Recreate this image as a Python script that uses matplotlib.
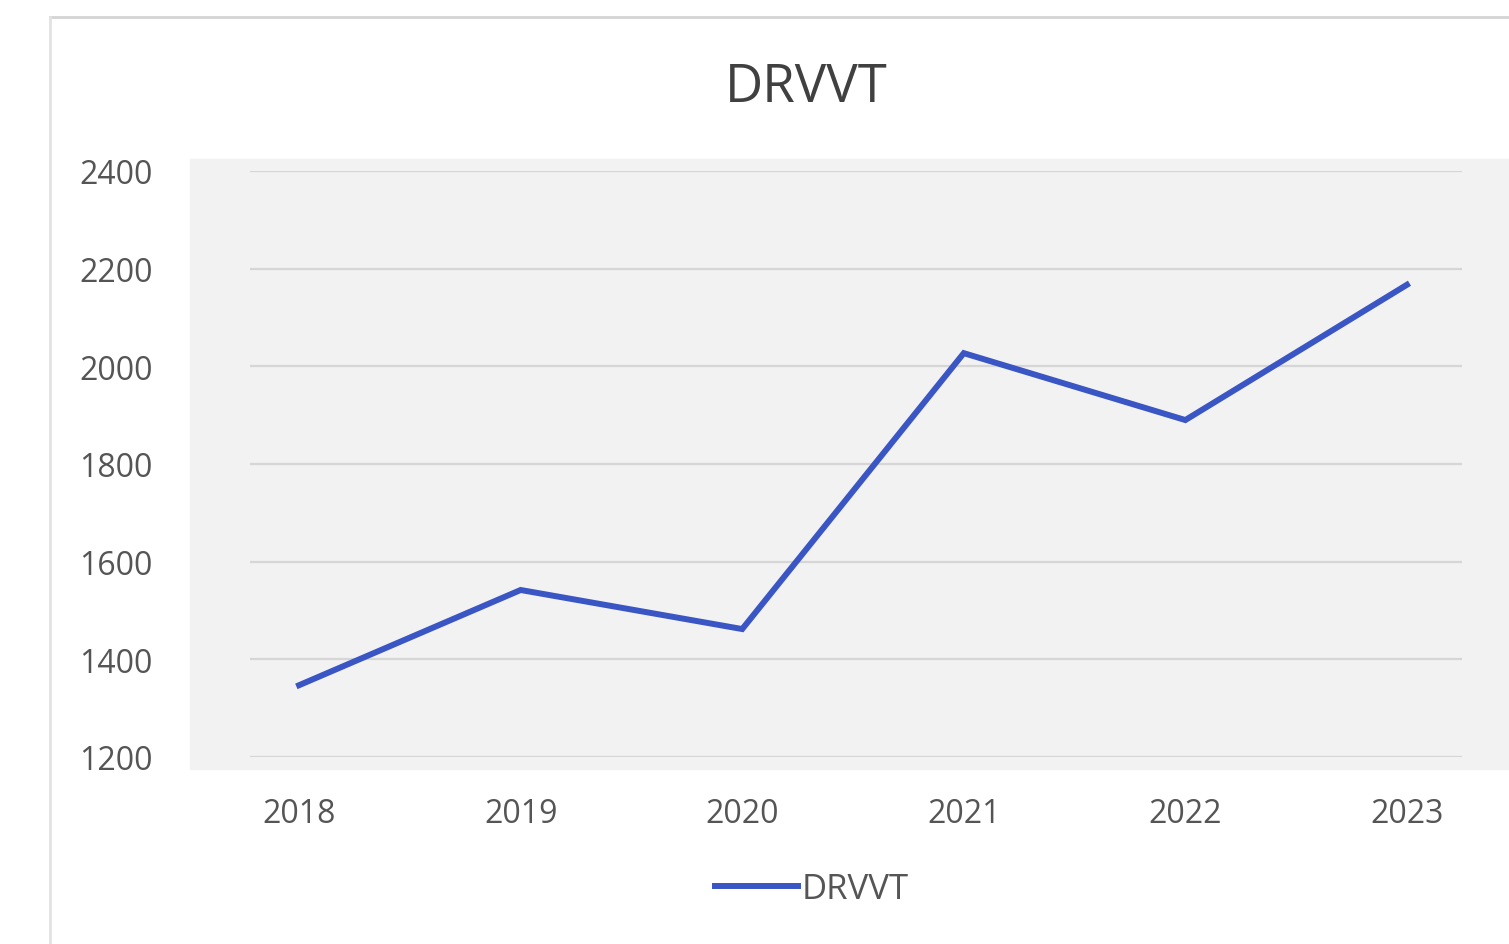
import matplotlib.pyplot as plt
from matplotlib.patches import Rectangle

years = [2018, 2019, 2020, 2021, 2022, 2023]
values = [1347, 1542, 1462, 2027, 1890, 2167]
yticks = [1200, 1400, 1600, 1800, 2000, 2200, 2400]

W, H = 1509, 945
fig = plt.figure(figsize=(W / 100, H / 100), dpi=100)
fig.patch.set_facecolor('white')

# gray plot background and the chart frame (figure pixels -> fractions)
fig.patches.append(Rectangle((190 / W, 1 - 770 / H), (W - 190) / W, 610 / H,
                             transform=fig.transFigure, color='#f2f2f2', zorder=-5))
fig.add_artist(plt.Line2D([50 / W, 1], [1 - 18 / H, 1 - 18 / H],
                          transform=fig.transFigure, color='#d4d4d4', lw=2, zorder=-5))
fig.add_artist(plt.Line2D([50 / W, 50 / W], [0, 1 - 18 / H],
                          transform=fig.transFigure, color='#e2e2e2', lw=2, zorder=-5))

ax = fig.add_axes([250 / W, 1 - 758 / H, 1212 / W, 586 / H])
ax.set_facecolor('none')

ax.plot(years, values, color='#3a56c4', lw=4.3, label='DRVVT',
        solid_joinstyle='miter')

ax.set_xlim(2018 - 49 * 5 / 1106, 2018 + 1161 * 5 / 1106)
ax.set_ylim(1200, 2400)
ax.set_yticks(yticks)
ax.set_xticks(years)
ax.grid(axis='y', color='#d6d6d6', lw=1.6)
ax.set_axisbelow(True)
for s in ax.spines.values():
    s.set_visible(False)
ax.tick_params(axis='both', length=0, labelsize=23, labelcolor='#555555')
ax.tick_params(axis='y', pad=70)
ax.tick_params(axis='x', pad=29)
for lab in ax.get_xticklabels() + ax.get_yticklabels():
    lab.set_family('Open Sans')

fig.text(806 / W, 1 - 88 / H, 'DRVVT', ha='center', va='center',
         fontsize=38, color='#404040', family='Open Sans')

leg = fig.legend(loc='center', bbox_to_anchor=(812 / W, 1 - 890 / H),
                 frameon=False, prop={'family': 'Open Sans', 'size': 25},
                 handlelength=2.4, handletextpad=0.1)
for t in leg.get_texts():
    t.set_color('#555555')

fig.savefig('out.png', dpi=100)
